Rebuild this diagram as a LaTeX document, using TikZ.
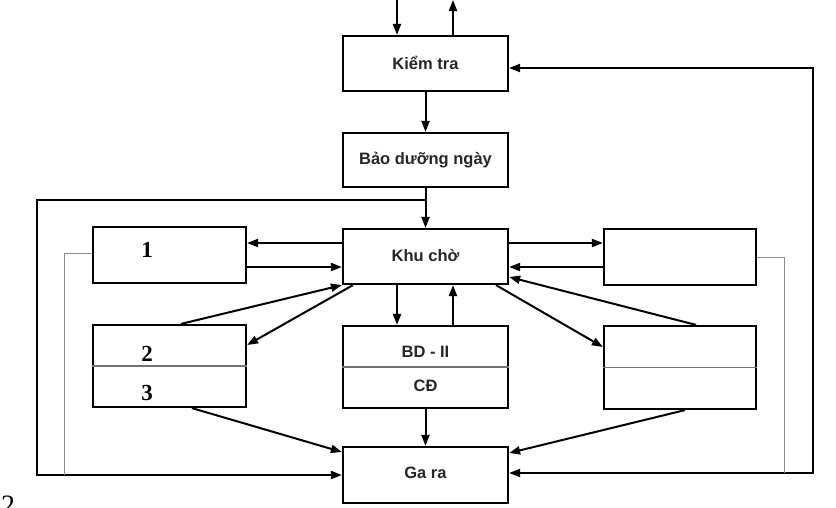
\documentclass[tikz,border=0pt]{standalone}
\usepackage{fontspec}
\setmainfont{Liberation Sans}
\newfontfamily\serifnum{Liberation Serif}
\usetikzlibrary{arrows.meta}
\tikzset{
  box/.style={draw, line width=2.2pt, minimum width=165pt, minimum height=55pt, inner sep=0pt, anchor=center},
  sidebox/.style={box, minimum width=153pt},
  lbl/.style={font=\bfseries\fontsize{16.5}{18}\selectfont, inner sep=0pt, text=black!85},
  numlbl/.style={font=\serifnum\bfseries\fontsize{23}{25}\selectfont, inner sep=0pt},
  arr/.style={line width=2pt, -{Triangle[length=11pt,width=8pt]}},
  dblarr/.style={line width=2pt, {Triangle[length=11pt,width=8pt]}-{Triangle[length=11pt,width=8pt]}},
  thin/.style={line width=1pt, draw=black!45},
  divider/.style={line width=1.6pt, draw=black!55},
}
\begin{document}
\begin{tikzpicture}[x=1pt, y=-1pt]
\useasboundingbox (0,0) rectangle (836,507);

% boxes
\node[box] (kt) at (425.5,63.5) {};
\node[box, minimum height=54pt] (bd) at (425.5,160) {};
\node[box] (kc) at (425.5,256.5) {};
\node[sidebox, minimum height=56pt] (b1) at (169.5,255) {};
\node[sidebox, minimum width=152pt, minimum height=56pt] (br1) at (680,257) {};
\node[sidebox, minimum height=82pt] (b23) at (169.5,366) {};
\node[box, minimum height=82pt] (bdii) at (425.5,367) {};
\node[sidebox, minimum width=152pt, minimum height=83pt] (br2) at (680,367.5) {};
\node[box, minimum height=56pt] (gr) at (425.5,475) {};

% dividers
\draw[divider] (b23.west) -- (b23.east);
\draw[divider] (bdii.west) -- (bdii.east);
\draw[divider] (br2.west) -- (br2.east);

% texts
\node[lbl] (tkt) at (425.5,63) {Kiểm tra};
\node[lbl] (tbd) at (425.5,160) {Bảo dưỡng ngày};
\node[lbl] (tkc) at (425.5,256) {Khu chờ};
\node[lbl] (tbdii) at (425.5,352) {BD - II};
\node[lbl] (tcd) at (425.5,386) {CĐ};
\node[lbl] (tgr) at (425.5,473) {Ga ra};
\node[numlbl] (n1) at (147,250) {1};
\node[numlbl] (n2) at (147,354) {2};
\node[numlbl] (n3) at (147,393) {3};
\node[font=\serifnum\fontsize{28}{30}\selectfont, inner sep=0pt, anchor=north west] (n2b) at (1,496) {2};

% top in/out
\coordinate (topin) at (397,0);
\coordinate (topout) at (453,0);
\draw[arr] (topin) -- (topin |- kt.north);
\draw[arr] (topout |- kt.north) -- (topout);

% vertical chain
\draw[arr] (kt.south) -- (bd.north);
\draw[arr] (bd.south) -- (kc.north);

% left outer loop
\coordinate (jl) at (bd.south |- 0,200);
\coordinate (lc1) at (37,200);
\coordinate (lc2) at (37,475);
\draw[arr] (jl) -- (lc1) -- (lc2) -- (gr.west |- lc2);

% right outer loop
\coordinate (rc1) at (813,68);
\coordinate (rc2) at (813,473);
\draw[dblarr] (kt.east |- rc1) -- (rc1) -- (rc2) -- (gr.east |- rc2);

% thin gray lines
\coordinate (tl1) at (64,253);
\coordinate (tl2) at (64,475);
\draw[thin] (b1.west |- tl1) -- (tl1) -- (tl2);
\coordinate (tr1) at (784,257);
\coordinate (tr2) at (784,473);
\draw[thin] (br1.east |- tr1) -- (tr1) -- (tr2);

% Khu cho <-> box 1
\draw[arr] (kc.west |- 0,243) -- (b1.east |- 0,243);
\draw[arr] (b1.east |- 0,267) -- (kc.west |- 0,267);
% Khu cho <-> right box 1
\draw[arr] (kc.east |- 0,243) -- (br1.west |- 0,243);
\draw[arr] (br1.west |- 0,267) -- (kc.east |- 0,267);

% diagonals
\draw[arr] (181,0 |- b23.north) -- (kc.south west);
\draw[arr] (353,0 |- kc.south) -- (b23.east |- 0,345);
\draw[arr] (397,0 |- kc.south) -- (397,0 |- bdii.north);
\draw[arr] (453,0 |- bdii.north) -- (453,0 |- kc.south);
\draw[arr] (496,0 |- kc.south) -- (br2.west |- 0,347);
\draw[arr] (696,0 |- br2.north) -- (kc.east |- 0,277);
\draw[arr] (192,0 |- b23.south) -- (gr.west |- 0,452);
\draw[arr] (bdii.south) -- (gr.north);
\draw[arr] (685,0 |- br2.south) -- (gr.east |- 0,453);
\end{tikzpicture}
\end{document}
